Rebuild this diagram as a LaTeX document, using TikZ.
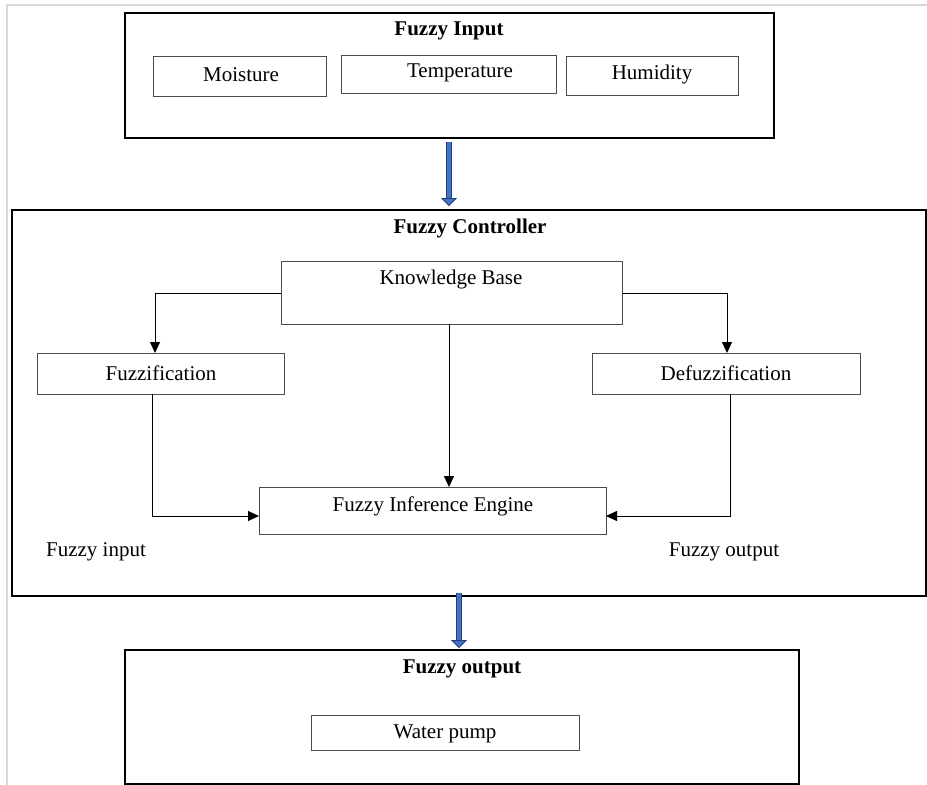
\documentclass[tikz,border=0pt]{standalone}
\usepackage{fontspec}
\setmainfont{Liberation Serif}
\usetikzlibrary{arrows.meta}
\definecolor{frameg}{HTML}{D9D9D9}
\definecolor{arrblue}{HTML}{4472C4}
\definecolor{arrdark}{HTML}{1F3F7A}
\begin{document}
\begin{tikzpicture}[x=1pt,y=-1pt,
  outerbox/.style={draw=black,line width=2pt,anchor=north west,inner sep=0pt},
  innerbox/.style={draw=black!70,line width=0.9pt,anchor=north west,inner sep=0pt},
  ttl/.style={font=\fontsize{21}{24}\selectfont\bfseries,anchor=center,inner sep=0pt},
  lbl/.style={font=\fontsize{21}{24}\selectfont,anchor=center,inner sep=0pt},
  conn/.style={draw=black,line width=0.9pt,-{Triangle[length=11pt,width=10pt]}},
  bigarrow/.style={draw=arrdark,line width=0.8pt,double=arrblue,double distance=4pt,
     -{Triangle[length=8pt,width=16pt,fill=arrblue]}}
]
\useasboundingbox (0,0) rectangle (927,785);
\fill[white] (0,0) rectangle (927,785);
% faint frame
\draw[frameg,line width=1.5pt] (7,785) -- (7,5) -- (927,5);

% Fuzzy Input
\node[outerbox,minimum width=649pt,minimum height=125pt] (inbox) at (124,12) {};
\node[ttl] (intitle) at (449,31) {Fuzzy Input};
\node[innerbox,minimum width=173pt,minimum height=40pt] (moist) at (153,56) {};
\node[lbl] (moistt) at (241,75) {Moisture};
\node[innerbox,minimum width=215pt,minimum height=38pt] (temp) at (341,55) {};
\node[lbl] (tempt) at (460,73) {Temperature};
\node[innerbox,minimum width=172pt,minimum height=39pt] (humid) at (566,56) {};
\node[lbl] (humidt) at (652,74) {Humidity};

% Fuzzy Controller
\node[outerbox,minimum width=914pt,minimum height=386pt] (ctrl) at (11,209) {};
\node[ttl] (ctitle) at (470,228) {Fuzzy Controller};
\node[innerbox,minimum width=341pt,minimum height=63pt] (kb) at (281,261) {};
\node[lbl] (kbt) at (451,279) {Knowledge Base};
\node[innerbox,minimum width=247pt,minimum height=41pt] (fuzz) at (37,353) {};
\node[lbl] (fuzzt) at (161,373) {Fuzzification};
\node[innerbox,minimum width=268pt,minimum height=41pt] (defuzz) at (592,353) {};
\node[lbl] (defuzzt) at (726,373) {Defuzzification};
\node[innerbox,minimum width=347pt,minimum height=47pt] (fie) at (259,487) {};
\node[lbl] (fiet) at (433,506) {Fuzzy Inference Engine};
\node[lbl] (fin) at (96,552) {Fuzzy input};
\node[lbl] (fout) at (724,552) {Fuzzy output};

\coordinate (kbL) at (281,293);
\coordinate (kbR) at (622,293);
\draw[conn] (kbL) -| (155,353);
\draw[conn] (kbR) -| (727,353);
\draw[conn] (449,324) -- (449,487);
\draw[conn] (152,394) |- (259,516);
\draw[conn] (730,394) |- (606,516);

% Fuzzy output
\node[outerbox,minimum width=674pt,minimum height=134pt] (outbox) at (124,649) {};
\node[ttl] (otitle) at (462,669) {Fuzzy output};
\node[innerbox,minimum width=268pt,minimum height=35pt] (pump) at (311,715) {};
\node[lbl] (pumpt) at (445,734) {Water pump};

% big blue arrows
\draw[bigarrow] (449,142) -- (449,206);
\draw[bigarrow] (459,593) -- (459,648);
\end{tikzpicture}
\end{document}
